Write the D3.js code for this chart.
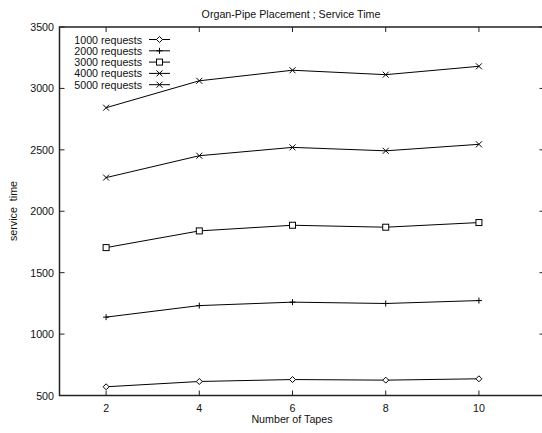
<!DOCTYPE html>
<html>
<head>
<meta charset="utf-8">
<script src="https://cdn.jsdelivr.net/npm/d3@7"></script>
<style>
  body { margin: 0; background: #fff; }
  text { font-family: "Liberation Sans", Arial, sans-serif; font-size: 10.7px; fill: #111; white-space: pre; }
</style>
</head>
<body>
<svg id="chart" width="542" height="433"></svg>
<script>
// data
let tapes = [2, 4, 6, 8, 10]
let seriesNames = ['1000 requests', '2000 requests', '3000 requests', '4000 requests', '5000 requests']
let markers = ['diamond', 'plus', 'square', 'cross', 'cross']
let s1000 = [571, 614, 630, 625, 636]
let s2000 = [1138, 1232, 1260, 1249, 1273]
let s3000 = [1704, 1840, 1886, 1870, 1908]
let s4000 = [2274, 2452, 2520, 2492, 2545]
let s5000 = [2843, 3062, 3148, 3112, 3180]
let allSeries = [s1000, s2000, s3000, s4000, s5000]
let yTicks = [500, 1000, 1500, 2000, 2500, 3000, 3500]

let svg = d3.select('#chart')

let xMax = 11.45
let x = d3.scaleLinear().domain([1, xMax]).range([59.5, 546.5])
let y = d3.scaleLinear().domain([500, 3500]).range([395.5, 27])

// border
svg.append('rect')
    .attr('x', x(1)).attr('y', y(3500))
    .attr('width', x(xMax) - x(1)).attr('height', y(500) - y(3500))
    .attr('fill', 'none').attr('stroke', '#222').attr('stroke-width', 1.5)

let tickLen = 5
let ticks = svg.append('g').attr('stroke', '#222').attr('stroke-width', 1)

tapes.forEach(t => {
    ticks.append('line').attr('x1', x(t)).attr('x2', x(t)).attr('y1', y(500)).attr('y2', y(500) - tickLen)
    ticks.append('line').attr('x1', x(t)).attr('x2', x(t)).attr('y1', y(3500)).attr('y2', y(3500) + tickLen)
    svg.append('text').attr('x', x(t)).attr('y', 411.5).attr('text-anchor', 'middle').text(t)
})

yTicks.forEach(v => {
    ticks.append('line').attr('x1', x(1)).attr('x2', x(1) + tickLen).attr('y1', y(v)).attr('y2', y(v))
    ticks.append('line').attr('x1', 539.5).attr('x2', 546).attr('y1', y(v)).attr('y2', y(v))
    svg.append('text').attr('x', 54).attr('y', y(v) + 4).attr('text-anchor', 'end').text(v)
})

// titles
svg.append('text').attr('x', 291).attr('y', 18).attr('text-anchor', 'middle')
    .text('Organ-Pipe Placement ; Service Time')
svg.append('text').attr('x', 292).attr('y', 423).attr('text-anchor', 'middle')
    .text('Number of Tapes')
svg.append('text').attr('transform', 'translate(17,211) rotate(-90)').attr('text-anchor', 'middle')
    .text('service  time')

// markers
let drawMarker = (g, type, cx, cy) => {
    let s = 3
    if (type === 'diamond') {
        g.append('path').attr('d', `M${cx},${cy - s}L${cx + s},${cy}L${cx},${cy + s}L${cx - s},${cy}Z`)
            .attr('fill', '#fff').attr('stroke', '#000').attr('stroke-width', 1)
    } else if (type === 'plus') {
        g.append('path').attr('d', `M${cx - s},${cy}H${cx + s}M${cx},${cy - s}V${cy + s}`)
            .attr('fill', 'none').attr('stroke', '#000').attr('stroke-width', 1)
    } else if (type === 'square') {
        g.append('rect').attr('x', cx - s).attr('y', cy - s).attr('width', 2 * s).attr('height', 2 * s)
            .attr('fill', '#fff').attr('stroke', '#000').attr('stroke-width', 1)
    } else {
        g.append('path').attr('d', `M${cx - s},${cy - s}L${cx + s},${cy + s}M${cx - s},${cy + s}L${cx + s},${cy - s}`)
            .attr('fill', 'none').attr('stroke', '#000').attr('stroke-width', 1)
    }
}

let line = d3.line().x((d, i) => x(tapes[i])).y(d => y(d))

allSeries.forEach((vals, k) => {
    let g = svg.append('g')
    g.append('path').datum(vals).attr('d', line)
        .attr('fill', 'none').attr('stroke', '#000').attr('stroke-width', 1)
    vals.forEach((v, i) => drawMarker(g, markers[k], x(tapes[i]), y(v)))
})

// legend
seriesNames.forEach((name, k) => {
    let ly = 39.5 + k * 11.3
    svg.append('text').attr('x', 142).attr('y', ly + 4).attr('text-anchor', 'end').text(name)
    let g = svg.append('g')
    g.append('line').attr('x1', 149).attr('x2', 170).attr('y1', ly).attr('y2', ly)
        .attr('stroke', '#000').attr('stroke-width', 1)
    drawMarker(g, markers[k], 159.5, ly)
})
</script>
</body>
</html>
